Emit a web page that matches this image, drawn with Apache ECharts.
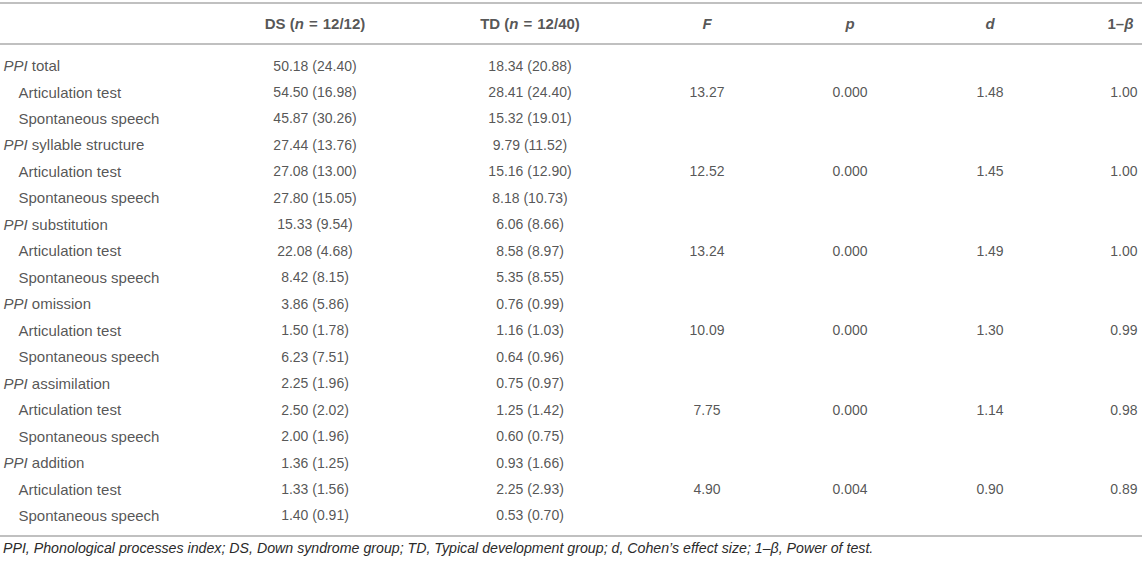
<!DOCTYPE html>
<html><head><meta charset="utf-8">
<script src="https://cdn.jsdelivr.net/npm/echarts@6/dist/echarts.min.js"></script>
<style>html,body{margin:0;padding:0;background:#fff}#c{width:1142px;height:564px}</style>
</head><body><div id="c"></div>
<script>
// ---- data ----
const processes = ['total', 'syllable structure', 'substitution', 'omission', 'assimilation', 'addition'];
const conditions = ['Articulation test', 'Spontaneous speech'];
const dsMean = [50.18, 54.50, 45.87, 27.44, 27.08, 27.80, 15.33, 22.08, 8.42, 3.86, 1.50, 6.23, 2.25, 2.50, 2.00, 1.36, 1.33, 1.40];
const dsSD   = [24.40, 16.98, 30.26, 13.76, 13.00, 15.05, 9.54, 4.68, 8.15, 5.86, 1.78, 7.51, 1.96, 2.02, 1.96, 1.25, 1.56, 0.91];
const tdMean = [18.34, 28.41, 15.32, 9.79, 15.16, 8.18, 6.06, 8.58, 5.35, 0.76, 1.16, 0.64, 0.75, 1.25, 0.60, 0.93, 2.25, 0.53];
const tdSD   = [20.88, 24.40, 19.01, 11.52, 12.90, 10.73, 8.66, 8.97, 8.55, 0.99, 1.03, 0.96, 0.97, 1.42, 0.75, 1.66, 2.93, 0.70];
const fValues = [13.27, 12.52, 13.24, 10.09, 7.75, 4.90];
const pValues = [0.000, 0.000, 0.000, 0.000, 0.000, 0.004];
const dValues = [1.48, 1.45, 1.49, 1.30, 1.14, 0.90];
const powerValues = [1.00, 1.00, 1.00, 0.99, 0.98, 0.89];
const groupNames = ['DS', 'TD'];
const groupSizes = ['12/12', '12/40'];
const statHeaders = ['F', 'p', 'd'];
const footnote = 'PPI, Phonological processes index; DS, Down syndrome group; TD, Typical development group; d, Cohen\u2019s effect size; 1\u2013\u03b2, Power of test.';

// ---- layout ----
const COL = { label: 3, indent: 18, ds: 315, td: 530, f: 707, p: 850, d: 990, power: 1138 };
const FONT = 'Liberation Sans';
const TXT = '#2a2a2a';
const RULE = { color: '#ababab', width: 1.6 };

const rows = [];
processes.forEach(p => {
  rows.push({ name: p, group: true });
  conditions.forEach(c => rows.push({ name: c, group: false }));
});
const rowIds = rows.map((r, k) => String(k));
const artRow = i => i * 3 + 1;
const fmt2 = v => v.toFixed(2);

const hidden = { symbolSize: 1, itemStyle: { color: 'rgba(0,0,0,0)' }, silent: true, animation: false };
const baseLabel = { show: true, fontFamily: FONT, fontSize: 14, color: TXT };

function cell(name, data, pos, formatter) {
  return Object.assign({
    type: 'scatter', name, xAxisIndex: 0, yAxisIndex: 0, data,
    label: Object.assign({}, baseLabel, { position: pos, distance: 0, formatter })
  }, hidden);
}

const headerRich = {
  b: { fontFamily: FONT, fontSize: 15, fontWeight: 'bold', color: TXT },
  bi: { fontFamily: FONT, fontSize: 15, fontWeight: 'bold', fontStyle: 'italic', color: TXT }
};
const bodyRich = {
  i: { fontFamily: FONT, fontSize: 15, fontStyle: 'italic', color: TXT },
  r: { fontFamily: FONT, fontSize: 15, color: TXT }
};

const SP = '\u2004';
const groupHeader = k => '{b|' + groupNames[k] + ' (}{bi|n}{b|' + SP + '=' + SP + groupSizes[k] + ')}';
const headerData = [
  { value: [COL.ds, 'h'], label: { formatter: groupHeader(0) } },
  { value: [COL.td, 'h'], label: { formatter: groupHeader(1) } },
  { value: [COL.f, 'h'], label: { formatter: '{bi|' + statHeaders[0] + '}' } },
  { value: [COL.p, 'h'], label: { formatter: '{bi|' + statHeaders[1] + '}' } },
  { value: [COL.d, 'h'], label: { formatter: '{bi|' + statHeaders[2] + '}' } }
];

const series = [
  // header
  Object.assign({ type: 'scatter', xAxisIndex: 1, yAxisIndex: 1, data: headerData,
    label: { show: true, position: 'inside', rich: headerRich } }, hidden),
  Object.assign({ type: 'scatter', xAxisIndex: 1, yAxisIndex: 1,
    data: [{ value: [COL.power, 'h'], label: { formatter: '{b|1\u2013}{bi|\u03b2}' } }],
    label: { show: true, position: 'left', distance: 4, rich: headerRich } }, hidden),
  // row labels
  Object.assign({ type: 'scatter', xAxisIndex: 0, yAxisIndex: 0,
    data: rows.map((r, k) => ({
      value: [r.group ? COL.label : COL.indent, rowIds[k]],
      label: { formatter: r.group ? '{i|PPI}{r| ' + r.name + '}' : '{r|' + r.name + '}' }
    })),
    label: { show: true, position: 'right', distance: 0, rich: bodyRich } }, hidden),
  // group columns
  cell('DS', rows.map((r, k) => [COL.ds, rowIds[k]]), 'inside',
    p => fmt2(dsMean[p.dataIndex]) + ' (' + fmt2(dsSD[p.dataIndex]) + ')'),
  cell('TD', rows.map((r, k) => [COL.td, rowIds[k]]), 'inside',
    p => fmt2(tdMean[p.dataIndex]) + ' (' + fmt2(tdSD[p.dataIndex]) + ')'),
  // stats
  cell('F', processes.map((p, i) => [COL.f, rowIds[artRow(i)]]), 'inside', p => fValues[p.dataIndex].toFixed(2)),
  cell('p', processes.map((p, i) => [COL.p, rowIds[artRow(i)]]), 'inside', p => pValues[p.dataIndex].toFixed(3)),
  cell('d', processes.map((p, i) => [COL.d, rowIds[artRow(i)]]), 'inside', p => dValues[p.dataIndex].toFixed(2)),
  cell('power', processes.map((p, i) => [COL.power, rowIds[artRow(i)]]), 'left', p => powerValues[p.dataIndex].toFixed(2))
];

const ruleAxis = (gridIndex, position, offset) => ({
  type: 'value', gridIndex, position, offset: offset || 0, min: 0, max: 1142,
  axisLine: { show: true, onZero: false, lineStyle: RULE },
  axisTick: { show: false }, axisLabel: { show: false }, splitLine: { show: false }
});

const chart = echarts.init(document.getElementById('c'), null, { renderer: 'svg' });
chart.setOption({
  animation: false,
  backgroundColor: '#fff',
  title: {
    text: footnote, left: 3, top: 541, padding: 0,
    textStyle: { fontFamily: FONT, fontSize: 14.2, fontStyle: 'italic', fontWeight: 'normal', color: TXT }
  },
  grid: [
    { left: 0, right: 0, top: 52.3, bottom: 35.3 },
    { left: 0, right: 0, top: 2.7, height: 40.6 }
  ],
  xAxis: [
    ruleAxis(0, 'bottom', 7.3),
    ruleAxis(1, 'top'),
    ruleAxis(1, 'bottom')
  ],
  yAxis: [
    { type: 'category', gridIndex: 0, data: rowIds, inverse: true, show: false },
    { type: 'category', gridIndex: 1, data: ['h'], show: false }
  ],
  series
});
</script>
</body></html>
